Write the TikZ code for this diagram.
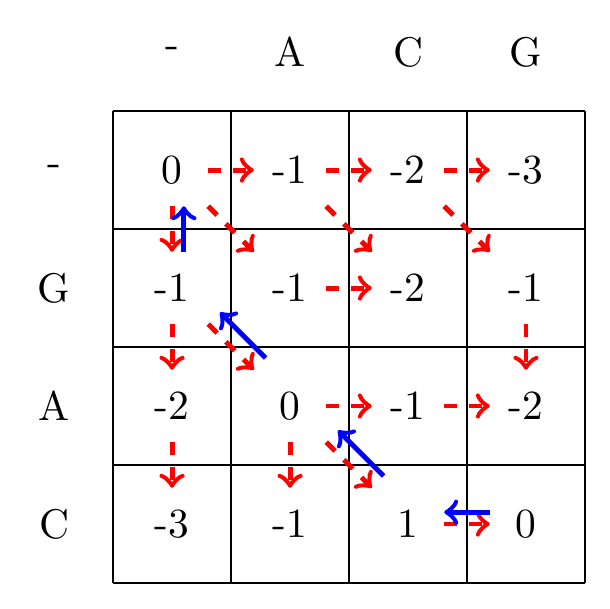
\documentclass[tikz,border=0pt]{standalone}
\begin{document}
\begin{tikzpicture}
	\tikzset{
		cell/.style={minimum size=0.6cm, inner sep=0pt},
		fwd/.style={->, red, very thick, dashed},
		back/.style={->, blue, very thick, transform canvas={shift={#1}}},
	}
	\useasboundingbox (-0.958,-0.212) rectangle (4.212,4.941);
	\draw (0,0) grid (4,4);
	% headers
	\foreach \h [count=\i from 0] in {-,A,C,G}
		\node (top\i) at (\i+0.5,4.5) {\h};
	\foreach \h [count=\j from 0] in {-,G,A,C}
		\node (side\j) at (-0.5,3.5-\j) {\h};
	% scores
	\foreach \row [count=\j from 0] in {{0,-1,-2,-3},{-1,-1,-2,-1},{-2,0,-1,-2},{-3,-1,1,0}}
		\foreach \v [count=\i from 0] in \row
			\node[cell] (c\j\i) at (\i+0.5,3.5-\j) {\v};
	% forward moves
	\draw[fwd] (c00) -- (c01);
	\draw[fwd] (c01) -- (c02);
	\draw[fwd] (c02) -- (c03);
	\draw[fwd] (c00) -- (c11);
	\draw[fwd] (c01) -- (c12);
	\draw[fwd] (c02) -- (c13);
	\draw[fwd] (c00) -- (c10);
	\draw[fwd] (c11) -- (c12);
	\draw[fwd] (c10) -- (c20);
	\draw[fwd] (c10) -- (c21);
	\draw[fwd] (c13) -- (c23);
	\draw[fwd] (c20) -- (c30);
	\draw[fwd] (c21) -- (c22);
	\draw[fwd] (c22) -- (c23);
	\draw[fwd] (c21) -- (c31);
	\draw[fwd] (c21) -- (c32);
	\draw[fwd] (c32) -- (c33);
	% traceback
	\draw[back={(0.1,0)}] (c10) -- (c00);
	\draw[back={(0.1,0.1)}] (c21) -- (c10);
	\draw[back={(0.1,0.1)}] (c32) -- (c21);
	\draw[back={(0,0.1)}] (c33) -- (c32);
\end{tikzpicture}
\end{document}
